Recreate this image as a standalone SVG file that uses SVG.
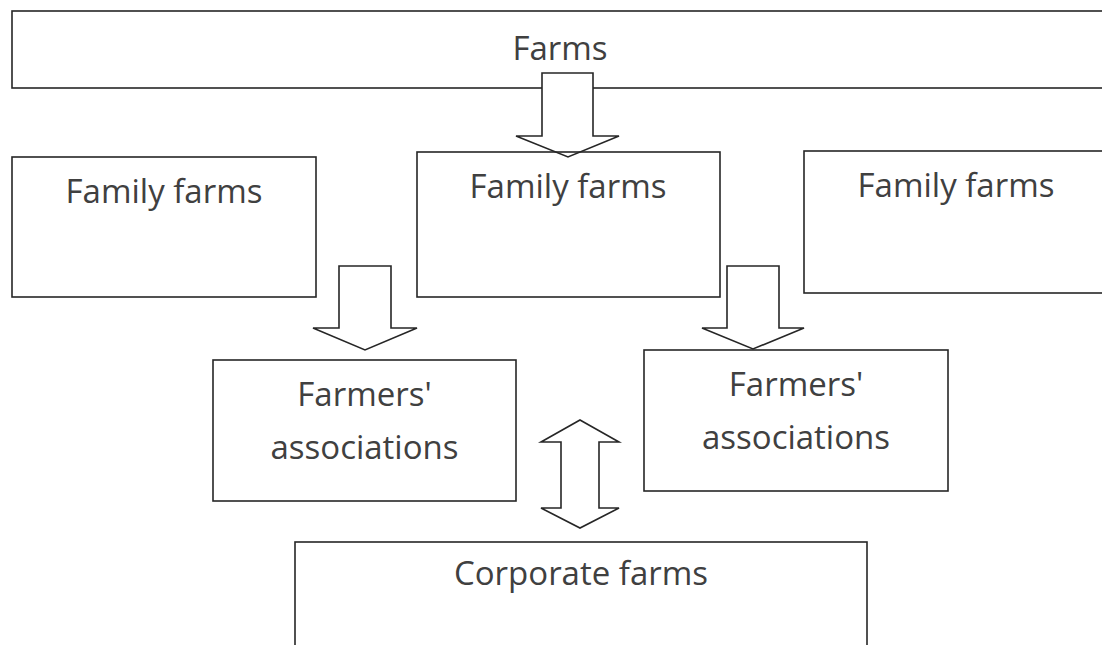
<svg xmlns="http://www.w3.org/2000/svg" width="1102" height="645" viewBox="0 0 1102 645">
<style>
.box{fill:none;stroke:#262626;stroke-width:1.6}
.arr{fill:#ffffff;stroke:#262626;stroke-width:1.6;stroke-linejoin:miter}
.t{font-family:"Open Sans","Liberation Sans",sans-serif;font-size:33px;fill:#404040;text-anchor:middle}
</style>
<rect width="1102" height="645" fill="#ffffff"/>
<g id="farms">
<rect class="box" x="12" y="11" width="1096" height="77"/>
<text class="t" x="560" y="60">Farms</text>
</g>
<g id="connectors">
<polygon class="arr" points="542,73 593,73 593,136 619,136 568,157 516,136 542,136"/>
<polygon class="arr" points="339,266 391,266 391,328 417,328 365,350 313,328 339,328"/>
<polygon class="arr" points="727,266 779,266 779,328 804,328 753,349 702,328 727,328"/>
<polygon class="arr" points="580,420 619,442 599,442 599,508 619,508 580,528 541,508 561,508 561,442 541,442"/>
</g>
<g id="family-left">
<rect class="box" x="12" y="157" width="304" height="140"/>
<text class="t" x="164" y="203">Family farms</text>
</g>
<g id="family-middle">
<rect class="box" x="417" y="152" width="303" height="145"/>
<text class="t" x="568" y="198">Family farms</text>
</g>
<g id="family-right">
<rect class="box" x="804" y="151" width="304" height="142"/>
<text class="t" x="956" y="197">Family farms</text>
</g>
<g id="assoc-left">
<rect class="box" x="213" y="360" width="303" height="141"/>
<text class="t" x="364.5" y="406">Farmers'</text>
<text class="t" x="364.5" y="459">associations</text>
</g>
<g id="assoc-right">
<rect class="box" x="644" y="350" width="304" height="141"/>
<text class="t" x="796" y="396">Farmers'</text>
<text class="t" x="796" y="449">associations</text>
</g>
<g id="corporate">
<rect class="box" x="295" y="542" width="572" height="120"/>
<text class="t" x="581" y="585">Corporate farms</text>
</g>
</svg>
